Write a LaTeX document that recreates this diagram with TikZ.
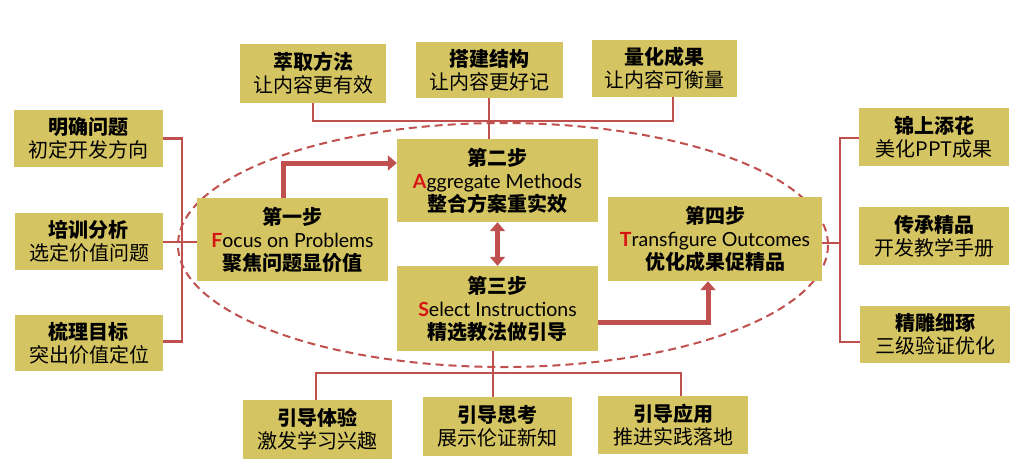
\documentclass[tikz,border=0pt]{standalone}
\usepackage{fontspec}
\setmainfont{Noto Sans CJK SC}
\newfontfamily\latfont{Lato}
\usetikzlibrary{arrows.meta}
\definecolor{boxc}{RGB}{213,196,98}
\definecolor{linec}{RGB}{192,80,77}
\definecolor{redl}{RGB}{215,20,20}
\newcommand{\bt}[1]{{\bfseries #1}}
\newcommand{\en}[2]{{\latfont\fontsize{19.5}{23}\selectfont\textcolor{redl}{\bfseries #1}#2}}
\begin{document}
\begin{tikzpicture}[x=1pt,y=-1pt,
  box/.style={fill=boxc, inner sep=0pt, align=center, font=\fontsize{20}{23}\selectfont},
  conn/.style={draw=linec, line width=2.2pt},
  arr/.style={draw=linec, line width=5pt, -{Triangle[length=9pt,width=15pt]}},
  darr/.style={draw=linec, line width=5pt, {Triangle[length=9pt,width=15pt]}-{Triangle[length=9pt,width=15pt]}}]
\useasboundingbox (0,0) rectangle (1023,475);
\fill[white] (0,0) rectangle (1023,475);
% dashed ellipse
\draw[linec, line width=2pt, dash pattern=on 8pt off 5pt] (503,245) ellipse [x radius=325, y radius=122];
% top boxes
\node[box, minimum width=146, minimum height=59] (t1) at (313,73.5) {\bt{萃取方法}\\让内容更有效};
\node[box, minimum width=147, minimum height=56] (t2) at (489.5,70) {\bt{搭建结构}\\让内容更好记};
\node[box, minimum width=145, minimum height=57] (t3) at (664.5,68.5) {\bt{量化成果}\\让内容可衡量};
% step boxes
\node[box, minimum width=191, minimum height=83] (s1) at (292.5,239.5) {\bt{第一步}\\\en{F}{ocus on Problems}\\\bt{聚焦问题显价值}};
\node[box, minimum width=201, minimum height=83] (s2) at (497.5,180.5) {\bt{第二步}\\\en{A}{ggregate Methods}\\\bt{整合方案重实效}};
\node[box, minimum width=201, minimum height=85] (s3) at (497.5,308.5) {\bt{第三步}\\\en{S}{elect Instructions}\\\bt{精选教法做引导}};
\node[box, minimum width=214, minimum height=84] (s4) at (715,239) {\bt{第四步}\\\en{T}{ransfigure Outcomes}\\\bt{优化成果促精品}};
% left boxes
\node[box, minimum width=149, minimum height=57] (l1) at (88.5,138.5) {\bt{明确问题}\\初定开发方向};
\node[box, minimum width=148, minimum height=57] (l2) at (89,241.5) {\bt{培训分析}\\选定价值问题};
\node[box, minimum width=148, minimum height=56] (l3) at (89,343) {\bt{梳理目标}\\突出价值定位};
% right boxes
\node[box, minimum width=150, minimum height=58] (r1) at (934,137) {\bt{锦上添花}\\美化PPT成果};
\node[box, minimum width=150, minimum height=58] (r2) at (934,236) {\bt{传承精品}\\开发教学手册};
\node[box, minimum width=150, minimum height=57] (r3) at (935,334.5) {\bt{精雕细琢}\\三级验证优化};
% bottom boxes
\node[box, minimum width=149, minimum height=59] (b1) at (317.5,429.5) {\bt{引导体验}\\激发学习兴趣};
\node[box, minimum width=149, minimum height=59] (b2) at (497.5,426.5) {\bt{引导思考}\\展示伦证新知};
\node[box, minimum width=150, minimum height=58] (b3) at (673,425) {\bt{引导应用}\\推进实践落地};
% top connectors
\draw[conn] (t1.south) -- ++(0,18) -| ([xshift=8.5pt]t3.south);
\draw[conn] ([xshift=-0.5pt]t2.south) -- ([xshift=-0.5pt]t2.south |- s2.north);
% left connectors
\draw[conn] (l1.east) -- ++(19,0) |- ([yshift=1.5pt]l3.east);
\draw[conn] ([yshift=-0.5pt]l2.east) -- ([yshift=-0.5pt]l2.east -| s1.west);
% right connectors
\coordinate (rv) at (840,243);
\draw[conn] ([yshift=-1pt]r1.west) -| (rv) |- ([yshift=-7.5pt]r3.west);
\draw[conn] ([yshift=-4pt]s4.east) -- (rv);
% bottom connectors
\draw[conn] ([xshift=-4.5pt]s3.south) -- ([xshift=-4.5pt]s3.south |- b2.north);
\draw[conn] ([xshift=-1.5pt]b1.north) |- (b2.north |- 0,373) -| ([xshift=8pt]b3.north);
% arrows
\draw[arr] ([xshift=-9.5pt]s1.north) |- ([yshift=17.5pt]s2.west);
\draw[darr] (s2.south) -- (s3.north);
\draw[arr] ([yshift=-13.5pt]s3.east) -| ([xshift=-7pt]s4.south);
\end{tikzpicture}
\end{document}
